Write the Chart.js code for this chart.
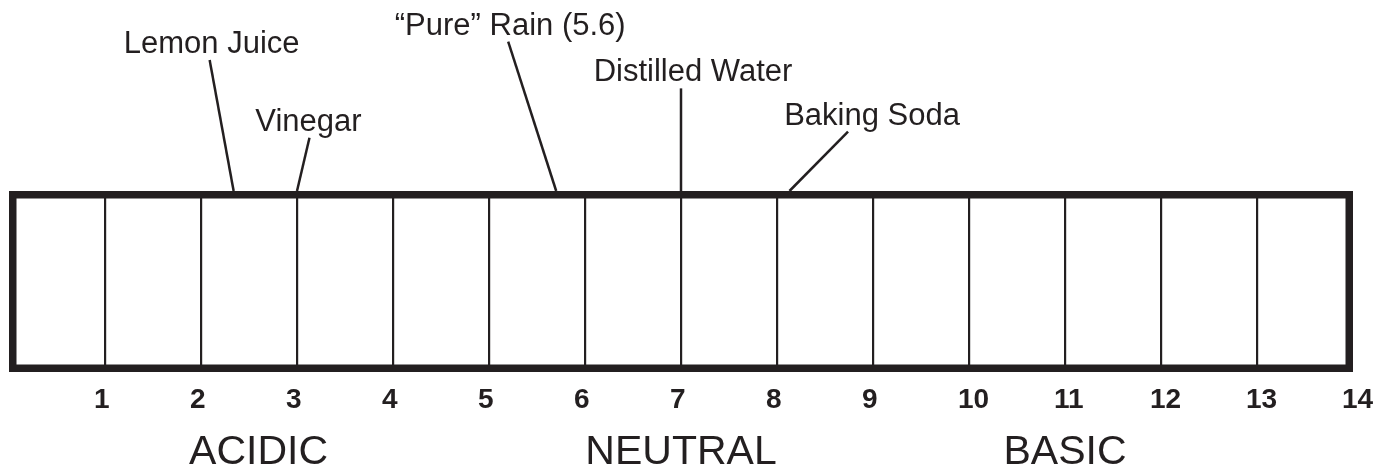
<!DOCTYPE html>
<html lang="en">

<head>
    <meta charset="UTF-8">
    <title>pH Scale</title>
    <script src="https://cdn.jsdelivr.net/npm/chart.js"></script>
    <style>
        html, body { margin: 0; padding: 0; background: #fff; }
        canvas { display: block; }
    </style>
</head>

<body>
    <canvas id="grafico-ph" width="1387" height="472"></canvas>

<script>
    // dados do grafico
    const phTicks = [0, 1, 2, 3, 4, 5, 6, 7, 8, 9, 10, 11, 12, 13, 14];
    const substances = ['Lemon Juice', 'Vinegar', '\u201cPure\u201d Rain (5.6)', 'Distilled Water', 'Baking Soda'];
    const substancePh = [2.34, 3.0, 5.7, 7.0, 8.13];
    const regionNames = ['ACIDIC', 'NEUTRAL', 'BASIC'];
    const regionPh = [2.6, 7.0, 11.0];

    // onde cada linha de chamada termina (x em pH, y acima da caixa)
    const leaderTipX = [2.09, 3.13, 5.2, 7.0, 8.74];
    const leaderTipY = [1.724, 1.294, 1.825, 1.567, 1.328];
    const labelDx = [2, -1, 2, 12, 24];

    const ink = '#231f20';
    const fontFamily = '"Liberation Sans", Arial, Helvetica, sans-serif';

    // caixa grossa em volta da area do grafico
    const frameBox = {
        id: 'frameBox',
        afterDraw(chart) {
            const { ctx, chartArea: a } = chart;
            const w = 7.5;
            ctx.save();
            ctx.strokeStyle = ink;
            ctx.lineWidth = w;
            ctx.strokeRect(a.left + w / 2, a.top + w / 2, a.right - a.left - w, a.bottom - a.top - w);
            ctx.restore();
        }
    };

    // nomes das substancias em cima das linhas
    const calloutText = {
        id: 'calloutText',
        afterDatasetsDraw(chart) {
            const { ctx } = chart;
            const xs = chart.scales.x;
            const ys = chart.scales.y;
            ctx.save();
            ctx.fillStyle = ink;
            ctx.font = '31px ' + fontFamily;
            ctx.textAlign = 'center';
            ctx.textBaseline = 'alphabetic';
            substances.forEach((name, i) => {
                const px = xs.getPixelForValue(leaderTipX[i]) + labelDx[i];
                const py = ys.getPixelForValue(leaderTipY[i]) - 7;
                ctx.fillText(name, px, py);
            });
            ctx.restore();
        }
    };

    const datasets = substances.map((name, i) => ({
        label: name,
        data: [{ x: substancePh[i], y: 1 }, { x: leaderTipX[i], y: leaderTipY[i] }],
        showLine: true,
        borderColor: ink,
        borderWidth: 2.5,
        pointRadius: 0,
        clip: false
    }));

    // o rotulo "14" cabe na margem direita, nao precisa encolher a area
    function fixHeight(h) {
        return scale => {
            scale.height = h;
            scale.paddingLeft = 0;
            scale.paddingRight = 0;
        };
    }

    const ctx = document.getElementById('grafico-ph').getContext('2d');
    new Chart(ctx, {
        type: 'scatter',
        data: { datasets: datasets },
        plugins: [frameBox, calloutText],
        options: {
            responsive: false,
            animation: false,
            devicePixelRatio: 1,
            layout: { padding: { top: 191, left: 9, right: 34, bottom: 0 } },
            plugins: {
                legend: { display: false },
                tooltip: { enabled: false }
            },
            scales: {
                x: {
                    type: 'linear',
                    position: 'bottom',
                    weight: 0,
                    min: 0,
                    max: 14,
                    afterBuildTicks: scale => { scale.ticks = phTicks.map(v => ({ value: v })); },
                    afterFit: fixHeight(44),
                    grid: {
                        drawTicks: false,
                        color: ink,
                        lineWidth: c => (c.tick && (c.tick.value === 0 || c.tick.value === 14)) ? 0 : 2.2
                    },
                    border: { display: false },
                    ticks: {
                        align: 'start',
                        labelOffset: -11,
                        padding: 11,
                        color: ink,
                        maxRotation: 0,
                        autoSkip: false,
                        font: { family: fontFamily, size: 28, weight: 'bold', lineHeight: 1.2 },
                        callback: v => v === 0 ? '' : String(v)
                    }
                },
                region: {
                    type: 'linear',
                    position: 'bottom',
                    weight: 1,
                    min: 0,
                    max: 14,
                    afterBuildTicks: scale => { scale.ticks = regionPh.map(v => ({ value: v })); },
                    afterFit: fixHeight(56),
                    grid: { display: false, drawTicks: false },
                    border: { display: false },
                    ticks: {
                        padding: 12,
                        color: ink,
                        maxRotation: 0,
                        autoSkip: false,
                        font: { family: fontFamily, size: 41, lineHeight: 1.2 },
                        callback: (v, i) => regionNames[i]
                    }
                },
                y: {
                    type: 'linear',
                    display: false,
                    min: 0,
                    max: 1
                }
            }
        }
    });
</script>
</body>

</html>
